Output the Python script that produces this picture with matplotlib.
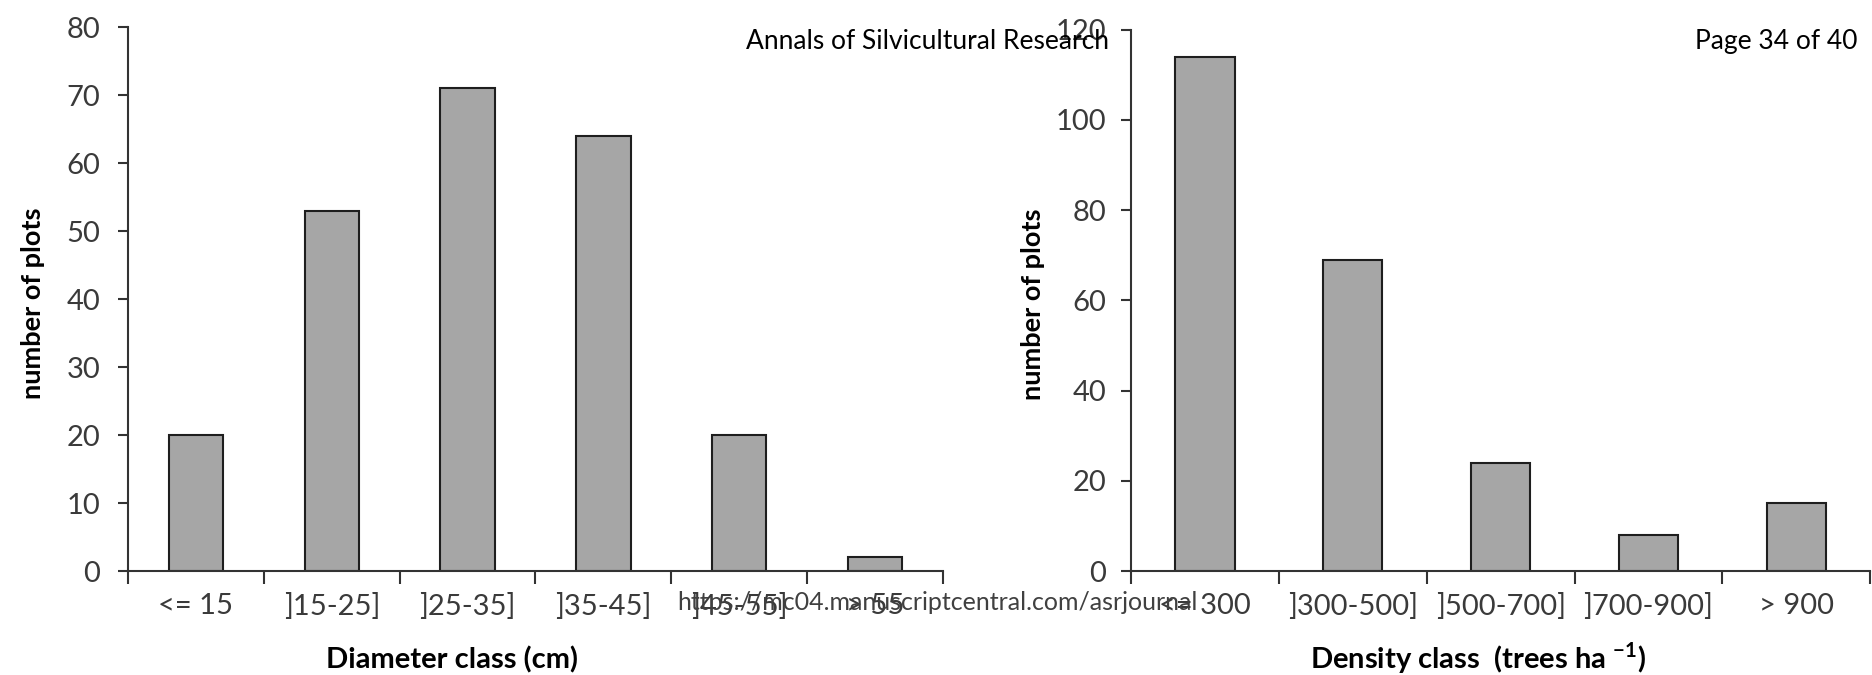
import matplotlib
matplotlib.use('Agg')
import matplotlib.pyplot as plt
import numpy as np

# diameter classes (left panel)
diam_classes = ['<= 15', ']15-25]', ']25-35]', ']35-45]', ']45-55]', '> 55']
diam_counts = [20, 53, 71, 64, 20, 2]

# density classes (right panel)
dens_classes = ['<= 300', ']300-500]', ']500-700]', ']700-900]', '> 900']
dens_counts = [114, 69, 24, 8, 15]

plt.rcParams['font.family'] = ['Lato', 'DejaVu Sans']
plt.rcParams['mathtext.fontset'] = 'custom'
plt.rcParams['mathtext.rm'] = 'Lato'
plt.rcParams['mathtext.bf'] = 'Lato:bold'

bar_col = '#a6a6a6'
edge_col = '#1e1e1e'
txt_col = '#3a3a3a'

fig = plt.figure(figsize=(18.72, 6.75), dpi=100)
ax1 = fig.add_axes([0.0684, 0.154, 0.4353, 0.806])
ax2 = fig.add_axes([0.6042, 0.154, 0.3948, 0.802])


def draw(ax, cats, vals, ymax, step, xlabel, ypad):
    x = np.arange(len(cats))
    ax.bar(x, vals, width=0.4, color=bar_col, edgecolor=edge_col, linewidth=1.5)
    ax.set_xlim(-0.5, len(cats) - 0.5)
    ax.set_ylim(0, ymax)
    ax.set_yticks(np.arange(0, ymax + 1, step))
    # boundaries get tick marks, class names sit between them
    ax.set_xticks(np.arange(len(cats) + 1) - 0.5)
    ax.set_xticklabels([])
    ax.set_xticks(x, minor=True)
    ax.set_xticklabels(cats, minor=True)
    ax.tick_params(axis='x', which='major', direction='out', length=9, width=1.5, color='#333333')
    ax.tick_params(axis='x', which='minor', length=0, pad=16, labelsize=21, labelcolor=txt_col)
    ax.tick_params(axis='y', direction='out', length=7, width=1.5, color='#333333', labelsize=21,
                   labelcolor=txt_col, pad=ypad)
    for s in ['top', 'right']:
        ax.spines[s].set_visible(False)
    for s in ['left', 'bottom']:
        ax.spines[s].set_linewidth(1.5)
        ax.spines[s].set_color('#333333')
    ax.set_ylabel('number of plots', fontsize=19.5, fontweight='bold')
    ax.set_xlabel(xlabel, fontsize=21, fontweight='bold')
    ax.patch.set_alpha(0)


draw(ax1, diam_classes, diam_counts, 80, 10, 'Diameter class (cm)', 13)
draw(ax2, dens_classes, dens_counts, 120, 20, r'Density class  (trees ha $^{\mathbf{-1}}$)', 11)

ax1.xaxis.set_label_coords(0.397, -0.138)
ax2.xaxis.set_label_coords(0.47, -0.128)
ax1.yaxis.set_label_coords(-0.102, 0.492)
ax2.yaxis.set_label_coords(-0.116, 0.492)

# page header / footer of the manuscript
fig.text(0.5924, 0.939, 'Annals of Silvicultural Research', fontsize=19, color='black',
         ha='right', va='center')
fig.text(0.9925, 0.939, 'Page 34 of 40', fontsize=19, color='black',
         ha='right', va='center')
fig.text(0.501, 0.107, 'https://mc04.manuscriptcentral.com/asrjournal', fontsize=18, color='#404040',
         ha='center', va='center')

fig.savefig('out.png', dpi=100)
